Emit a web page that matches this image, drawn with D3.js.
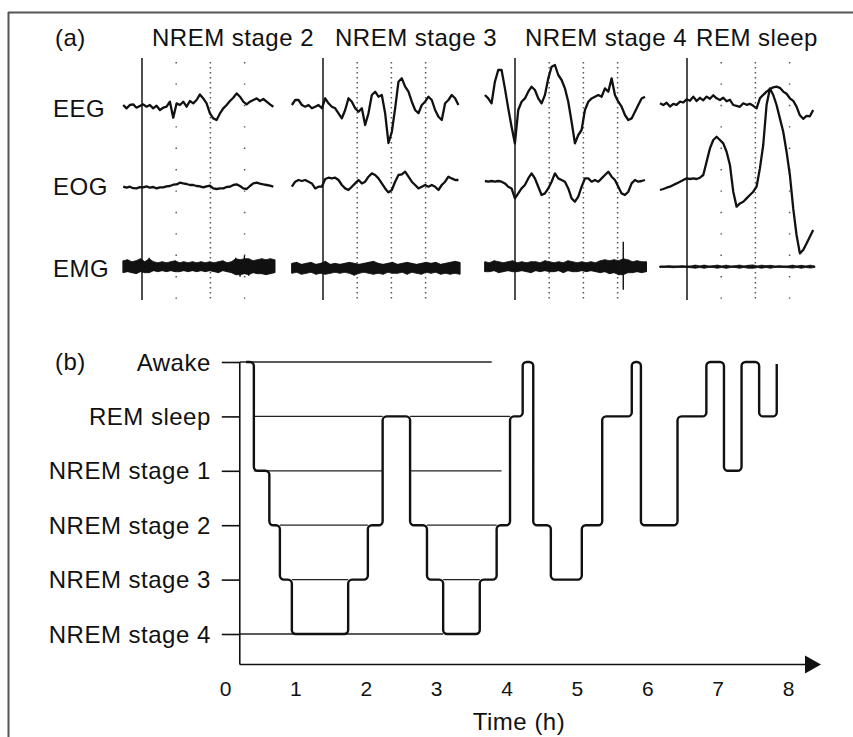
<!DOCTYPE html>
<html><head><meta charset="utf-8">
<script src="https://cdn.jsdelivr.net/npm/d3@7"></script>
<style>
html,body{margin:0;padding:0;background:#fff;}
svg{display:block;font-family:"Liberation Sans",Arial,Helvetica,sans-serif;}
</style></head><body>
<svg id="chart" width="853" height="737"></svg>
<script>
// ================= DATA =================
// Panel (a): polysomnographic traces, one block per stage
const panelTitles = ["NREM stage 2", "NREM stage 3", "NREM stage 4", "REM sleep"];
const channels = ["EEG", "EOG", "EMG"];
// time span of each trace block in seconds relative to its solid marker line
const traceStart = [-0.55, -0.91, -0.88, -0.79];
const traceEnd = [3.84, 3.96, 3.80, 3.69];
const gridSeconds = [1, 2, 3];
const denseGrid = [[false, true, false], [true, true, true], [true, true, true], [false, true, false]];

// EEG (µV-like units, up = positive)
const eegStage2 = [1.7,-1.7,1.7,2.3,-1,0.7,2.3,0,1.7,-1.7,1,-3.3,-1,0,5,-11,3.3,1.7,5,0,5.7,3.3,6.7,12.3,8.3,3.3,-6.7,-11.7,-13.3,-6.7,-1.7,1.7,5.7,9,13.3,10,5,2.3,5,6.7,8.3,5.7,7.7,5,2.3,0];
const eegStage3 = [0,5,5,0,-1.7,0,-3.3,-1.7,0,-3.3,6.7,1.7,-1.7,-3.3,-8.3,-13.3,-5,6.7,3.3,-3.3,-6.7,-3.3,-20,-8.3,10,13.3,8.3,10,-8.3,-38,-27,-3.3,23.3,26.7,18.3,13.3,3.3,-5,-8.3,0,3.3,8.3,5,-5,-11.7,-15,1.7,5,10,6.7,0];
const eegStage4 = [6.7,3.3,-1.7,20,31.7,31.7,13.3,-6.7,-25,-41.7,-8.3,0,3.3,10,15,11.7,3.3,-1.7,6.7,23.3,35,36.7,26.7,21.7,13.3,0,-20,-41.7,-33.3,-28.3,-8.3,0,3.3,5,6.7,5,13.3,10,23.3,6.7,0,-5,-13.3,-18.3,-16.7,-10,-3.3,3.3,5];
const eegRem = [0,-1.7,0.5,-3.3,-0.5,-1.5,1.7,0.8,4,2.5,6.7,2.3,5.5,3,6.7,4.5,8,5,3.3,5.5,2,3.5,-1.7,-2.5,-3.5,0,-1.5,-0.5,-2.5,-5,5,8.5,11.7,14,16,16.7,15.5,11.7,9.5,5,2.5,-3.3,-12,-15.5,-12.5,-13,-6.7];

// EOG
const eogStage2 = [0,-1,0,-1.5,-1.7,-0.5,-0.7,0.3,-1,-0.3,-1.7,-0.7,-0.7,0.3,0.7,2,2.3,4,3.3,2.7,1.7,1.7,0.7,0.3,-0.7,0.3,1,-1.7,-2.3,-1.7,-1.7,-0.3,0,1.7,2.3,0.7,-1.7,-2.3,0.7,3.3,4,3,2.3,1.7,1,0];
const eogStage3 = [-5,0,1.7,0.7,1.7,0,-1.7,-6.7,-5,-5,2.7,4,3.3,4,1.7,-3.3,-6.7,-8.3,-5,-1.7,1.7,-1.7,0,5,8.3,6.7,3.3,-1.7,-6.7,-10.7,-8.3,0,6.7,7.3,10,5,0,-3.3,-6.7,-5,-3.3,-5,-3.3,-5,-8.3,-3.3,0,5,3.3,1.7,1.7];
const eogStage4 = [0.7,0,0.7,0,0.7,0,-1.7,-5,-6.7,-16.7,-11.7,-6.7,-3.3,3.3,8.3,3.3,-5,-13.3,-11.7,-6.7,0,8.3,3.3,1.7,0,-6.7,-16.7,-20,-15,-5,3.3,3.3,0,1.7,0,3.3,6.7,10,5,1.7,-5,-11.7,-13.3,-10,-1.7,1.7,0,0.7,1.7];
const eogRem = [-8.3,-7.3,-6,-5,-3.3,-1.7,0,1.7,3.3,2.7,3.3,2.7,4,6.7,20,33.3,41.7,45,41.7,38.3,30,16.7,-10,-25,-21.7,-20,-16.7,-13.3,-10,-5,13.3,36.7,76.7,93.3,86.7,76.7,63.3,50,30,6.7,-26.7,-53.3,-71.7,-68.3,-61.7,-55,-48.3];

// EMG amplitude envelopes (upper / lower half-width)
const emgUpperStage2 = [6,7,5,6,8,5,9,5,4,5,4,5,6,4,5,4,5,4,5,4,5,4,5,6,4,5,9,7,11,8,6,7,8,7,8,7];
const emgLowerStage2 = [6,5,6,7,5,6,6,4,5,4,5,4,5,5,4,5,4,5,4,5,4,5,6,4,5,6,8,10,7,9,6,7,7,8,7,6];
const emgUpperStage3 = [5,6,4,5,6,4,5,7,4,5,4,5,6,5,4,5,6,7,5,4,5,6,4,5,6,5,4,5,6,5,6,4,5,6,7,6];
const emgLowerStage3 = [5,4,6,5,4,6,5,6,5,4,5,4,5,7,5,4,5,6,5,6,4,5,5,4,6,4,5,6,4,5,4,6,5,6,5,6];
const emgUpperStage4 = [5,4,6,5,4,5,6,4,5,4,5,5,4,6,5,4,5,4,6,5,4,5,4,5,4,6,7,6,7,6,25,7,5,6,5,5];
const emgLowerStage4 = [5,5,4,6,5,4,5,5,4,5,6,4,5,4,5,5,4,6,4,5,5,4,5,4,5,6,5,7,6,8,23,6,6,5,6,5];
const emgUpperRem = [0.8,0.8,1,0.8,0.8,1,0.8,0.8,1.6,0.8,1.6,0.8,1,1.6,0.8,1.5,0.8,1,1.6,0.8,1.4,1.8,0.8,1.5,1,1.4,0.8,1,0.8,0.8,1.5,0.8,1.4,0.8,1.5,0.8];
const emgLowerRem = [0.8,0.8,0.8,1,0.8,0.8,0.8,1,1.5,0.8,1.5,0.8,0.8,1.5,0.8,1.6,0.8,0.8,1.5,0.8,1.5,1.6,0.8,1.5,0.8,1.5,0.8,0.8,0.8,1,1.4,0.8,1.5,0.8,1.4,0.8];

// Panel (b): hypnogram
const stages = ["Awake", "REM sleep", "NREM stage 1", "NREM stage 2", "NREM stage 3", "NREM stage 4"];
const hoursTicks = [0, 1, 2, 3, 4, 5, 6, 7, 8];
const hypnoTimes = [0.30,0.41,0.63,0.78,0.95,1.75,2.03,2.24,2.63,2.87,3.10,3.62,3.86,4.05,4.23,4.38,4.63,5.07,5.36,5.78,5.91,6.43,6.84,7.09,7.34,7.59,7.84];
const hypnoStages = ["Awake","NREM stage 1","NREM stage 2","NREM stage 3","NREM stage 4","NREM stage 3","NREM stage 2","REM sleep","NREM stage 2","NREM stage 3","NREM stage 4","NREM stage 3","NREM stage 2","REM sleep","Awake","NREM stage 2","NREM stage 3","NREM stage 2","REM sleep","Awake","NREM stage 2","REM sleep","Awake","NREM stage 1","Awake","REM sleep","Awake"];
// reference level lines (stage, from h, to h)
const gridStage = ["Awake","REM sleep","REM sleep","NREM stage 1","NREM stage 1","NREM stage 2","NREM stage 2","NREM stage 3","NREM stage 3","NREM stage 4"];
const gridFrom = [0.21,0.41,2.63,0.41,2.63,0.78,2.87,0.95,3.10,0.21];
const gridTo = [3.79,2.24,4.05,2.24,3.93,2.03,3.86,1.75,3.62,3.10];
const axisStartHour = 0.21;

// ================= LAYOUT =================
const svg = d3.select("#chart");
const ink = "#111";
const FONT = 24;
svg.append("rect").attr("width", 853).attr("height", 737).attr("fill", "#fff");
// frame
svg.append("line").attr("x1", 8).attr("x2", 853).attr("y1", 12.5).attr("y2", 12.5).attr("stroke", "#555").attr("stroke-width", 2);
svg.append("line").attr("x1", 8.5).attr("x2", 8.5).attr("y1", 12).attr("y2", 737).attr("stroke", "#555").attr("stroke-width", 2);

function label(g, txt, x, y, anchor, size) {
  return g.append("text").attr("x", x).attr("y", y).attr("text-anchor", anchor || "start")
    .attr("font-size", size || FONT).attr("letter-spacing", "0.5px").attr("fill", ink).text(txt);
}

// ---------- panel (a) ----------
const pa = svg.append("g");
label(pa, "(a)", 55, 46);
const titleX = [233, 416, 606, 757];
panelTitles.forEach((t, i) => label(pa, t, titleX[i], 46, "middle"));
const rowBaseY = [117, 195, 277];
channels.forEach((c, i) => label(pa, c, 53, rowBaseY[i]));

const markerX = [142, 323, 515, 687];
const pxPerSec = 34.2;
const eegBase = [106.7, 105, 101.7, 103.3];
const eogBase = [186.7, 181.7, 181.7, 181.7];
const emgBase = [266.7, 268.3, 266.7, 266.7];
const eegSets = [eegStage2, eegStage3, eegStage4, eegRem];
const eogSets = [eogStage2, eogStage3, eogStage4, eogRem];
const emgUp = [emgUpperStage2, emgUpperStage3, emgUpperStage4, emgUpperRem];
const emgLo = [emgLowerStage2, emgLowerStage3, emgLowerStage4, emgLowerRem];
const amp = d3.scaleLinear().domain([-100, 100]).range([100, -100]);

panelTitles.forEach((t, b) => {
  const xs = d3.scaleLinear().domain([0, 1]).range([markerX[b], markerX[b] + pxPerSec]);
  const g = pa.append("g");
  // dotted second markers
  gridSeconds.forEach((s, k) => {
    g.append("line").attr("x1", xs(s)).attr("x2", xs(s)).attr("y1", 62).attr("y2", 300)
      .attr("stroke", "#555").attr("stroke-width", 1.5)
      .attr("stroke-dasharray", denseGrid[b][k] ? "1.4,3.6" : "1.4,20");
  });
  // solid marker
  g.append("line").attr("x1", xs(0)).attr("x2", xs(0)).attr("y1", 58).attr("y2", 300)
    .attr("stroke", "#222").attr("stroke-width", 1.6);

  function traceLine(vals, base) {
    const ti = d3.scaleLinear().domain([0, vals.length - 1]).range([traceStart[b], traceEnd[b]]);
    return d3.line().x((d, i) => xs(ti(i))).y(d => base + amp(d))(vals);
  }
  g.append("path").attr("d", traceLine(eegSets[b], eegBase[b])).attr("fill", "none")
    .attr("stroke", ink).attr("stroke-width", 2.3).attr("stroke-linejoin", "round");
  g.append("path").attr("d", traceLine(eogSets[b], eogBase[b])).attr("fill", "none")
    .attr("stroke", ink).attr("stroke-width", 2.3).attr("stroke-linejoin", "round");
  // EMG: clamped envelope band + per-sample vertical excursions
  const up = emgUp[b], lo = emgLo[b];
  const ti = d3.scaleLinear().domain([0, up.length - 1]).range([traceStart[b], traceEnd[b] + 0.04]);
  const cap = 8;
  const area = d3.area().x((d, i) => xs(ti(i)))
    .y0((d, i) => emgBase[b] + amp(-Math.min(lo[i], cap))).y1((d, i) => emgBase[b] + amp(Math.min(up[i], cap)));
  g.append("path").attr("d", area(up)).attr("fill", ink).attr("stroke", ink).attr("stroke-width", 0.8);
  g.selectAll(".emgSpike").data(up).join("line")
    .attr("x1", (d, i) => xs(ti(i))).attr("x2", (d, i) => xs(ti(i)))
    .attr("y1", (d, i) => emgBase[b] + amp(up[i])).attr("y2", (d, i) => emgBase[b] + amp(-lo[i]))
    .attr("stroke", ink).attr("stroke-width", 1.4);
});

// ---------- panel (b) ----------
const pb = svg.append("g");
const x = d3.scaleLinear().domain([0, 8]).range([225, 788]);
const y = d3.scalePoint().domain(stages).range([362, 634]);
const axisY = 664.5;
label(pb, "(b)", 55, 370);

// reference lines
gridStage.forEach((s, i) => {
  pb.append("line").attr("x1", x(gridFrom[i])).attr("x2", x(gridTo[i]))
    .attr("y1", y(s)).attr("y2", y(s)).attr("stroke", "#222").attr("stroke-width", 1.3);
});

// y axis
const yAxis = pb.append("g").attr("transform", `translate(${x(axisStartHour)},0)`)
  .call(d3.axisLeft(y).tickSize(18).tickPadding(11));
yAxis.select(".domain").remove();
yAxis.selectAll(".tick line").attr("stroke", ink).attr("stroke-width", 1.6);
yAxis.selectAll(".tick text").attr("font-size", FONT).attr("font-family", "Liberation Sans, Arial, sans-serif")
  .attr("letter-spacing", "0.5px").attr("fill", ink).attr("dy", "0.34em");
pb.append("line").attr("x1", x(axisStartHour)).attr("x2", x(axisStartHour))
  .attr("y1", y("Awake")).attr("y2", axisY).attr("stroke", ink).attr("stroke-width", 1.6);

// x axis with arrow
const xAxis = pb.append("g").attr("transform", `translate(0,${axisY})`)
  .call(d3.axisBottom(x).tickValues(hoursTicks).tickSize(0).tickPadding(17).tickFormat(d3.format("d")));
xAxis.select(".domain").remove();
xAxis.selectAll(".tick text").attr("font-size", 21).attr("font-family", "Liberation Sans, Arial, sans-serif").attr("fill", ink);
const arrowTip = 821;
pb.append("line").attr("x1", x(axisStartHour)).attr("x2", arrowTip - 10).attr("y1", axisY).attr("y2", axisY)
  .attr("stroke", ink).attr("stroke-width", 1.6);
pb.append("path").attr("d", `M${arrowTip - 16},${axisY - 9}L${arrowTip},${axisY}L${arrowTip - 16},${axisY + 9}Z`).attr("fill", ink);
label(pb, "Time (h)", 519, 730, "middle");

// hypnogram with rounded step corners
const pts = [];
hypnoTimes.forEach((t, i) => {
  if (i > 0) pts.push([x(t), y(hypnoStages[i - 1])]);
  pts.push([x(t), y(hypnoStages[i])]);
});
const hp = d3.path();
hp.moveTo(pts[0][0], pts[0][1]);
for (let i = 1; i < pts.length - 1; i++) {
  hp.arcTo(pts[i][0], pts[i][1], pts[i + 1][0], pts[i + 1][1], 4);
}
hp.lineTo(pts[pts.length - 1][0], pts[pts.length - 1][1] + 2);
pb.append("path").attr("d", hp.toString()).attr("fill", "none").attr("stroke", ink)
  .attr("stroke-width", 2.4).attr("stroke-linejoin", "round");
</script>
</body></html>
